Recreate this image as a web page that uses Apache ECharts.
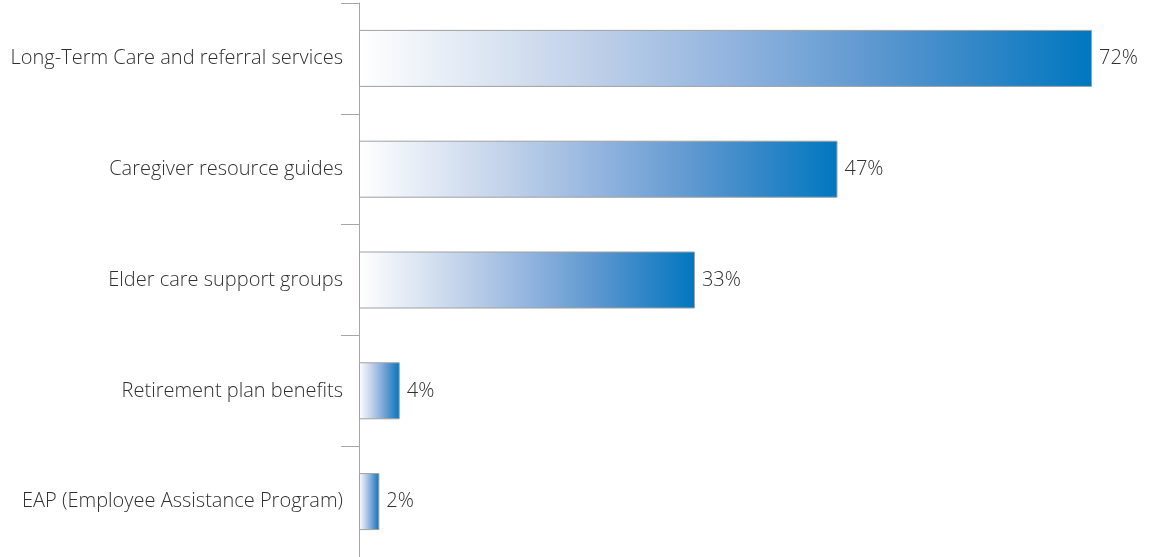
<!DOCTYPE html>
<html>
<head>
<meta charset="utf-8">
<script src="https://cdn.jsdelivr.net/npm/echarts@6/dist/echarts.min.js"></script>
<style>
  html, body { margin: 0; padding: 0; background: #ffffff; }
  #chart { width: 1154px; height: 557px; }
</style>
</head>
<body>
<div id="chart"></div>
<script>
// Elder care benefits offered (share of respondents, %)
const categories = [
  'Long-Term Care and referral services',
  'Caregiver resource guides',
  'Elder care support groups',
  'Retirement plan benefits',
  'EAP (Employee Assistance Program)'
];
const values = [72, 47, 33, 4, 2];

const FONT = '"Open Sans", "Noto Sans", sans-serif';
const TEXT = '#303030';
const AXIS = '#a6a6a6';

// Horizontal white-to-blue fill applied to every bar
const barFill = new echarts.graphic.LinearGradient(0, 0, 1, 0, [
  { offset: 0, color: '#ffffff' },
  { offset: 0.3, color: '#c3d3ea' },
  { offset: 0.5, color: '#94b5df' },
  { offset: 0.7, color: '#5e98d0' },
  { offset: 0.85, color: '#2f86c7' },
  { offset: 1, color: '#0077c0' }
]);

const chart = echarts.init(document.getElementById('chart'), null, { renderer: 'canvas' });
chart.setOption({
  animation: false,
  grid: { left: 359, top: 3, width: 733, height: 557.5, containLabel: false },
  xAxis: {
    type: 'value',
    min: 0,
    max: 72,
    show: false
  },
  yAxis: {
    type: 'category',
    data: categories,
    inverse: true,
    axisLine: { show: true, lineStyle: { color: AXIS, width: 1 } },
    axisTick: { show: true, length: 18, lineStyle: { color: AXIS, width: 1 } },
    axisLabel: {
      margin: 16,
      color: TEXT,
      fontFamily: FONT,
      fontWeight: 300,
      fontSize: 20
    },
    splitLine: { show: false }
  },
  series: [{
    type: 'bar',
    data: values,
    barWidth: 57,
    itemStyle: {
      color: barFill,
      borderColor: '#a0a0a0',
      borderWidth: 1
    },
    label: {
      show: true,
      position: 'right',
      distance: 7,
      formatter: '{c}%',
      color: TEXT,
      fontFamily: FONT,
      fontWeight: 300,
      fontSize: 20
    }
  }]
});
</script>
</body>
</html>
